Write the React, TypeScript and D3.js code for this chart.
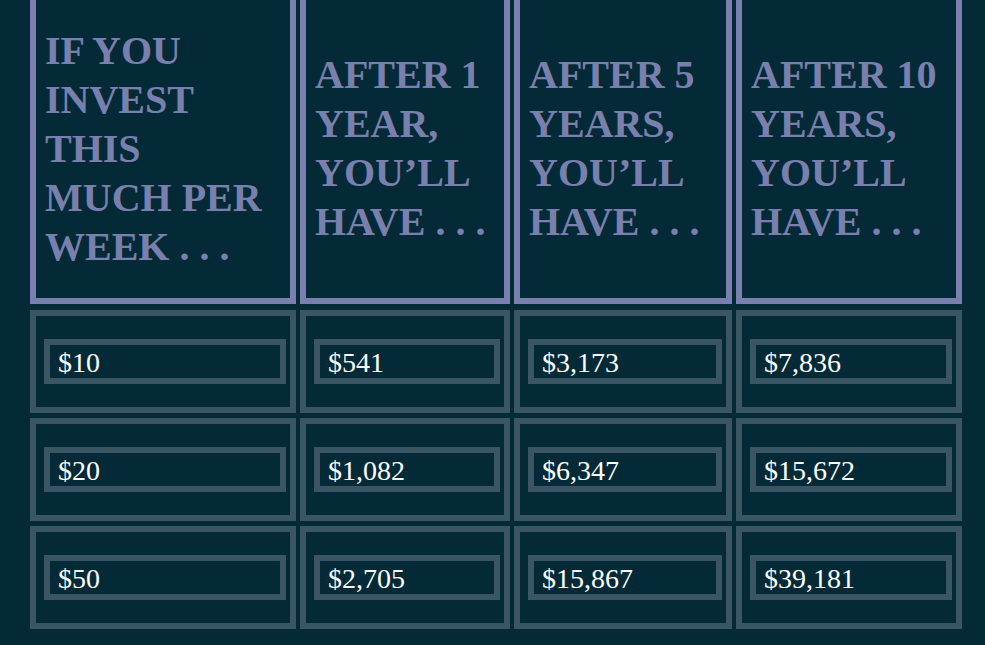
import * as d3 from 'd3';

const headers = [
  ["IF YOU", "INVEST", "THIS", "MUCH PER", "WEEK . . ."],
  ["AFTER 1", "YEAR,", "YOU\u2019LL", "HAVE . . ."],
  ["AFTER 5", "YEARS,", "YOU\u2019LL", "HAVE . . ."],
  ["AFTER 10", "YEARS,", "YOU\u2019LL", "HAVE . . ."],
];
const weekly = [10, 20, 50];
const after1 = [541, 1082, 2705];
const after5 = [3173, 6347, 15867];
const after10 = [7836, 15672, 39181];

// layout
const colEdges = [[30, 296], [300, 510], [514, 732], [736, 962]];
const rowTops = [310, 418, 526];
const rowH = 103;
const bg = "#042a37";
const headBorder = "#7a80ad";
const cellBorder = "#3a5664";
const fmt = d3.format("$,");

export default function App() {
  const cols = [weekly, after1, after5, after10];
  return (
    <svg width={985} height={645} style={{ position: "absolute", left: 0, top: 0, background: bg }}>
      <rect width={985} height={645} fill={bg} />
      {colEdges.map(([x0, x1], c) => {
        const lines = headers[c];
        const firstBase = lines.length === 5 ? 64 : 88;
        return (
          <g key={c}>
            <rect x={x0 + 3} y={-10} width={x1 - x0 - 6} height={311} fill="none" stroke={headBorder} strokeWidth={6} />
            {lines.map((t, i) => (
              <text key={i} x={x0 + 15} y={firstBase + i * 49} fill={headBorder}
                fontFamily="'Liberation Serif', 'Times New Roman', serif" fontWeight="bold" fontSize={40}>{t}</text>
            ))}
            {cols[c].map((v, r) => (
              <g key={r}>
                <rect x={x0 + 3} y={rowTops[r] + 3} width={x1 - x0 - 6} height={rowH - 6} fill="none" stroke={cellBorder} strokeWidth={6} />
                <rect x={x0 + 17} y={rowTops[r] + 32} width={x1 - x0 - 30} height={39} fill="none" stroke={cellBorder} strokeWidth={6} />
                <text x={x0 + 28} y={rowTops[r] + 62} fill="#ffffff"
                  fontFamily="'Liberation Serif', 'Times New Roman', serif" fontSize={28}>{fmt(v)}</text>
              </g>
            ))}
          </g>
        );
      })}
    </svg>
  );
}
